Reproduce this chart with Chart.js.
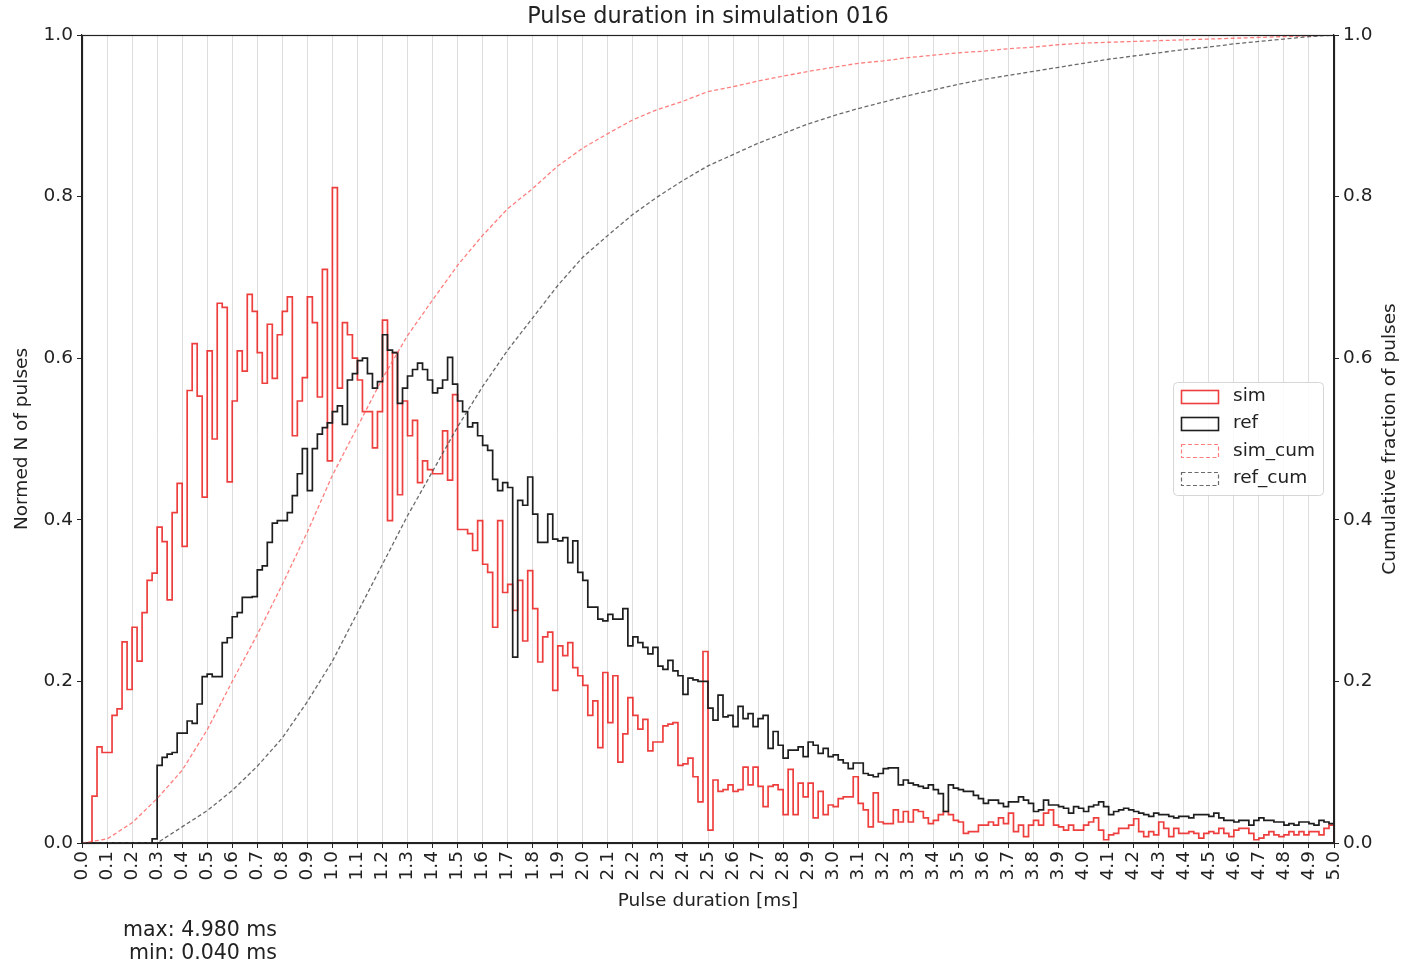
<!DOCTYPE html>
<html>
<head>
<meta charset="utf-8">
<script src="https://cdn.jsdelivr.net/npm/chart.js@4/dist/chart.umd.min.js"></script>
<style>
html,body{margin:0;padding:0;background:#fff;}
#wrap{position:relative;width:1402px;height:967px;}
</style>
</head>
<body>
<div id="wrap"><canvas id="c" width="1402" height="967"></canvas></div>
<script>
// ---------------- DATA ----------------
const chartTitle = 'Pulse duration in simulation 016';
const xAxisLabel = 'Pulse duration [ms]';
const yAxisLabel = 'Normed N of pulses';
const y2AxisLabel = 'Cumulative fraction of pulses';
const statsLines = ['max: 4.980 ms', ' min: 0.040 ms'];
const seriesNames = ['sim', 'ref', 'sim_cum', 'ref_cum'];

const binStart = 0.0;
const binWidth = 0.02;   // ms
const xMin = 0.0, xMax = 5.0, xStep = 0.1;
const yMin = 0.0, yMax = 1.0, yStep = 0.2;

// normed histogram, sim (250 bins of 0.02 ms)
const simHist = [
 0,0,0.058,0.119,0.112,0.112,0.158,0.166,0.249,0.19,
 0.267,0.225,0.285,0.325,0.334,0.391,0.373,0.301,0.409,0.445,
 0.367,0.56,0.618,0.553,0.428,0.609,0.5,0.668,0.663,0.447,
 0.547,0.609,0.584,0.679,0.658,0.607,0.569,0.642,0.575,0.629,
 0.658,0.676,0.504,0.547,0.576,0.676,0.644,0.552,0.71,0.473,
 0.811,0.563,0.644,0.629,0.6,0.573,0.534,0.534,0.489,0.534,
 0.647,0.399,0.607,0.431,0.547,0.504,0.523,0.446,0.473,0.462,
 0.457,0.457,0.51,0.449,0.555,0.388,0.388,0.383,0.362,0.399,
 0.345,0.335,0.267,0.399,0.31,0.32,0.288,0.325,0.25,0.337,
 0.29,0.224,0.255,0.261,0.189,0.244,0.232,0.248,0.217,0.207,
 0.195,0.158,0.176,0.118,0.211,0.149,0.207,0.1,0.135,0.18,
 0.158,0.141,0.153,0.114,0.125,0.125,0.145,0.147,0.149,0.096,
 0.098,0.105,0.082,0.051,0.237,0.016,0.078,0.064,0.066,0.072,
 0.064,0.066,0.094,0.072,0.094,0.07,0.045,0.07,0.072,0.066,
 0.035,0.091,0.035,0.074,0.057,0.074,0.031,0.064,0.035,0.047,
 0.045,0.055,0.057,0.057,0.082,0.049,0.041,0.02,0.062,0.026,
 0.024,0.024,0.041,0.026,0.039,0.026,0.041,0.039,0.031,0.024,
 0.028,0.035,0.039,0.035,0.028,0.026,0.012,0.014,0.014,0.022,
 0.022,0.026,0.022,0.031,0.024,0.037,0.014,0.022,0.008,0.022,
 0.028,0.022,0.037,0.041,0.022,0.02,0.016,0.022,0.016,0.016,
 0.022,0.026,0.031,0.016,0.004,0.01,0.012,0.018,0.018,0.022,
 0.03,0.014,0.008,0.014,0.01,0.026,0.018,0.008,0.018,0.012,
 0.012,0.014,0.012,0.006,0.012,0.014,0.012,0.018,0.012,0.008,
 0.016,0.018,0.018,0.012,0.004,0.006,0.01,0.014,0.01,0.008,
 0.01,0.014,0.01,0.014,0.01,0.014,0.014,0.01,0.018,0.022
];

// normed histogram, ref (250 bins of 0.02 ms)
const refHist = [
 0,0,0,0,0,0,0,0,0,0,
 0,0,0,0,0.005,0.096,0.106,0.11,0.112,0.136,
 0.136,0.151,0.148,0.172,0.206,0.209,0.206,0.206,0.248,0.254,
 0.28,0.285,0.304,0.304,0.305,0.338,0.343,0.372,0.396,0.399,
 0.399,0.409,0.43,0.457,0.488,0.436,0.488,0.506,0.514,0.52,
 0.534,0.541,0.518,0.573,0.581,0.597,0.6,0.581,0.563,0.571,
 0.629,0.61,0.607,0.544,0.563,0.578,0.586,0.594,0.586,0.573,
 0.557,0.563,0.573,0.601,0.568,0.547,0.534,0.515,0.52,0.504,
 0.492,0.486,0.45,0.436,0.446,0.44,0.23,0.424,0.418,0.453,
 0.407,0.372,0.372,0.407,0.376,0.374,0.378,0.347,0.374,0.335,
 0.325,0.292,0.292,0.277,0.275,0.283,0.277,0.277,0.29,0.244,
 0.255,0.248,0.242,0.234,0.242,0.219,0.215,0.226,0.213,0.207,
 0.184,0.204,0.202,0.2,0.2,0.167,0.152,0.183,0.156,0.158,
 0.144,0.169,0.154,0.16,0.144,0.154,0.158,0.117,0.138,0.121,
 0.105,0.115,0.115,0.119,0.107,0.125,0.121,0.111,0.117,0.107,
 0.109,0.103,0.099,0.092,0.099,0.099,0.086,0.084,0.082,0.086,
 0.092,0.093,0.093,0.072,0.078,0.074,0.072,0.07,0.068,0.072,
 0.066,0.061,0.039,0.072,0.068,0.066,0.064,0.064,0.059,0.055,
 0.049,0.053,0.053,0.049,0.045,0.051,0.051,0.057,0.053,0.049,
 0.039,0.041,0.053,0.047,0.047,0.045,0.043,0.037,0.045,0.043,
 0.039,0.045,0.047,0.051,0.045,0.035,0.039,0.041,0.043,0.041,
 0.039,0.037,0.035,0.033,0.037,0.035,0.035,0.033,0.031,0.033,
 0.033,0.031,0.035,0.035,0.035,0.033,0.037,0.031,0.028,0.028,
 0.026,0.028,0.028,0.022,0.028,0.031,0.028,0.028,0.026,0.026,
 0.022,0.024,0.022,0.026,0.026,0.024,0.022,0.028,0.026,0.024
];

// cumulative fractions, read every 0.1 ms
const cumX = [
 0.0,0.1,0.2,0.3,0.4,0.5,0.6,0.7,0.8,0.9,
 1.0,1.1,1.2,1.3,1.4,1.5,1.6,1.7,1.8,1.9,
 2.0,2.1,2.2,2.3,2.4,2.5,2.6,2.7,2.8,2.9,
 3.0,3.1,3.2,3.3,3.4,3.5,3.6,3.7,3.8,3.9,
 4.0,4.1,4.2,4.3,4.4,4.5,4.6,4.7,4.8,4.9,5.0
];
const simCum = [
 0,0.005,0.025,0.055,0.09,0.14,0.2,0.258,0.32,0.385,
 0.455,0.515,0.575,0.628,0.672,0.715,0.752,0.785,0.81,0.838,
 0.86,0.878,0.895,0.908,0.918,0.93,0.936,0.943,0.949,0.955,
 0.96,0.965,0.968,0.972,0.975,0.978,0.98,0.983,0.985,0.988,
 0.99,0.991,0.992,0.993,0.994,0.995,0.996,0.997,0.998,0.999,1.0
];
const refCum = [
 0,0,0,0,0.02,0.04,0.065,0.095,0.13,0.175,
 0.225,0.285,0.345,0.405,0.46,0.515,0.565,0.61,0.65,0.69,
 0.725,0.752,0.778,0.8,0.82,0.838,0.852,0.866,0.878,0.89,
 0.9,0.909,0.917,0.925,0.932,0.939,0.945,0.95,0.955,0.96,
 0.965,0.97,0.974,0.978,0.982,0.985,0.989,0.992,0.995,0.998,1.0
];

// ---------------- STYLE ----------------
const FONT = "'DejaVu Sans', 'Liberation Sans', sans-serif";
const TXT = '#222222';
const simColor = 'rgba(236,36,36,0.88)';
const refColor = '#1e1e1e';
const simCumColor = 'rgba(255,95,95,0.8)';
const refCumColor = 'rgba(70,70,70,0.8)';

function stepPoints(vals) {
  const pts = vals.map((v, i) => ({ x: +(binStart + i * binWidth).toFixed(2), y: v }));
  pts.push({ x: xMax, y: vals[vals.length - 1] });
  pts.push({ x: xMax, y: 0 });
  return pts;
}
function linePoints(xs, ys) { return xs.map((x, i) => ({ x: x, y: ys[i] })); }

const decor = {
  id: 'decor',
  afterDatasetsDraw(chart) {
    const { ctx, chartArea: a } = chart;
    ctx.save();
    ctx.strokeStyle = '#222';
    ctx.lineWidth = 1.2;
    ctx.strokeRect(Math.round(a.left) + 0.5, Math.round(a.top) + 0.5,
                   Math.round(a.right - a.left), Math.round(a.bottom - a.top));
    ctx.restore();
  },
  afterDraw(chart) {
    const { ctx, chartArea: a } = chart;
    const cx = (a.left + a.right) / 2, cy = (a.top + a.bottom) / 2;
    ctx.save();
    ctx.fillStyle = TXT;
    ctx.textBaseline = 'middle';
    // title
    ctx.textAlign = 'center';
    ctx.font = '22.4px ' + FONT;
    ctx.fillText(chartTitle, cx, 17);
    // x label
    ctx.font = '18.5px ' + FONT;
    ctx.fillText(xAxisLabel, cx, 901);
    // y labels
    ctx.save();
    ctx.translate(22, cy); ctx.rotate(-Math.PI / 2);
    ctx.fillText(yAxisLabel, 0, 0);
    ctx.restore();
    ctx.save();
    ctx.translate(1390, cy); ctx.rotate(-Math.PI / 2);
    ctx.fillText(y2AxisLabel, 0, 0);
    ctx.restore();
    // stats
    ctx.textAlign = 'right';
    ctx.font = '20.5px ' + FONT;
    ctx.fillText(statsLines[0], 277, 931);
    ctx.fillText(statsLines[1], 277, 954);
    // legend
    const lx = 1173, ly = 382, lw = 150, lh = 113;
    ctx.beginPath();
    ctx.roundRect(lx + 0.5, ly + 0.5, lw, lh, 4);
    ctx.fillStyle = 'rgba(255,255,255,0.85)';
    ctx.fill();
    ctx.strokeStyle = '#d6d6d6';
    ctx.lineWidth = 1;
    ctx.stroke();
    const styles = [
      { c: simColor, d: [], w: 1.6 },
      { c: refColor, d: [], w: 1.6 },
      { c: simCumColor, d: [4, 2.5], w: 1.2 },
      { c: refCumColor, d: [4, 2.5], w: 1.2 }
    ];
    ctx.font = '18.5px ' + FONT;
    ctx.textAlign = 'left';
    seriesNames.forEach((name, i) => {
      const yy = 396 + i * 27.4;
      ctx.save();
      ctx.strokeStyle = styles[i].c;
      ctx.lineWidth = styles[i].w;
      ctx.setLineDash(styles[i].d);
      ctx.strokeRect(1181.5, Math.round(yy - 6.5) + 0.5, 37, 13);
      ctx.restore();
      ctx.fillStyle = TXT;
      ctx.fillText(name, 1233, yy);
    });
    ctx.restore();
  }
};

new Chart(document.getElementById('c'), {
  type: 'line',
  data: {
    datasets: [
      { label: seriesNames[0], data: stepPoints(simHist), stepped: 'before',
        borderColor: simColor, borderWidth: 1.7, pointRadius: 0, fill: false, yAxisID: 'y', order: 4 },
      { label: seriesNames[1], data: stepPoints(refHist), stepped: 'before',
        borderColor: refColor, borderWidth: 1.7, pointRadius: 0, fill: false, yAxisID: 'y', order: 3 },
      { label: seriesNames[2], data: linePoints(cumX, simCum), tension: 0,
        borderColor: simCumColor, borderWidth: 1.3, borderDash: [4, 2.5], pointRadius: 0, fill: false, yAxisID: 'y2', order: 2 },
      { label: seriesNames[3], data: linePoints(cumX, refCum), tension: 0,
        borderColor: refCumColor, borderWidth: 1.3, borderDash: [4, 2.5], pointRadius: 0, fill: false, yAxisID: 'y2', order: 1 }
    ]
  },
  options: {
    responsive: false,
    animation: false,
    devicePixelRatio: 1,
    layout: { padding: { top: 35, left: 0, right: 0, bottom: 0 } },
    plugins: { legend: { display: false }, tooltip: { enabled: false }, title: { display: false } },
    scales: {
      x: {
        type: 'linear', min: xMin, max: xMax,
        afterFit(s) { s.height = 124; },
        ticks: {
          stepSize: xStep, autoSkip: false, maxRotation: 90, minRotation: 90,
          padding: 3, color: TXT, font: { family: FONT, size: 18.5 },
          callback: v => Number(v).toFixed(1)
        },
        grid: { display: true, color: '#dedede', lineWidth: 1, drawTicks: true, tickLength: 5, tickColor: '#222' },
        border: { display: true, color: '#222', width: 1.2 }
      },
      y: {
        position: 'left', min: yMin, max: yMax,
        afterFit(s) { s.width = 82; },
        ticks: { stepSize: yStep, padding: 4, color: TXT, font: { family: FONT, size: 18.5 },
                 callback: v => Number(v).toFixed(1) },
        grid: { drawOnChartArea: false, drawTicks: true, tickLength: 5, tickColor: '#222' },
        border: { display: true, color: '#222', width: 1.2 }
      },
      y2: {
        position: 'right', min: yMin, max: yMax,
        afterFit(s) { s.width = 68; },
        ticks: { stepSize: yStep, padding: 4, color: TXT, font: { family: FONT, size: 18.5 },
                 callback: v => Number(v).toFixed(1) },
        grid: { drawOnChartArea: false, drawTicks: true, tickLength: 5, tickColor: '#222' },
        border: { display: true, color: '#222', width: 1.2 }
      }
    }
  },
  plugins: [decor]
});
</script>
</body>
</html>
